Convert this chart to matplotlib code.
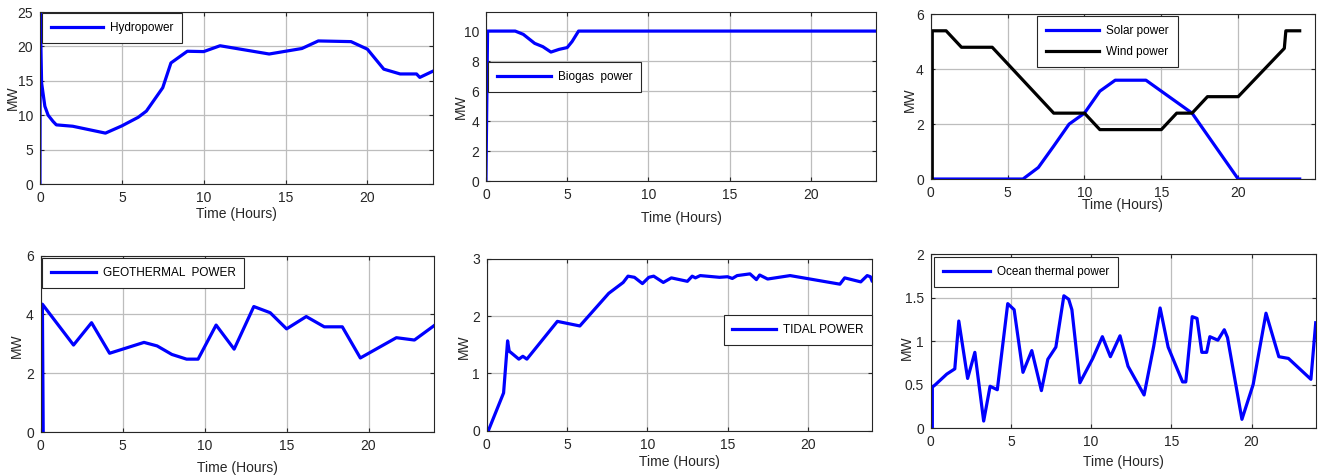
import matplotlib
matplotlib.use("Agg")
import matplotlib.pyplot as plt

plt.rcParams['font.family'] = ['Liberation Sans', 'DejaVu Sans']

# data (hours, MW)
hydro_t = [0, 0.02, 0.1, 0.3, 0.5, 0.8, 1, 2, 4, 5, 6, 6.5, 7.5, 8, 9, 10, 11, 14, 16, 17, 19, 20,
           21, 22, 23, 23.2, 24]
hydro_mw = [0, 25, 14.7, 11.3, 10.0, 9.1, 8.6, 8.4, 7.4, 8.45, 9.7, 10.6, 14.0, 17.6, 19.3, 19.25,
            20.1, 18.9, 19.7, 20.8, 20.7, 19.6, 16.7, 16.0, 16.0, 15.5, 16.4]

biogas_t = [0, 0.1, 1.8, 2.3, 3, 3.5, 4, 4.5, 5, 5.3, 5.7, 24]
biogas_mw = [0, 10, 10, 9.78, 9.18, 8.96, 8.6, 8.78, 8.9, 9.3, 10, 10]

solar_t = [0, 6, 7, 8, 9, 10, 11, 12, 14, 15, 17, 20, 24]
solar_mw = [0, 0, 0.42, 1.2, 2.0, 2.4, 3.2, 3.6, 3.6, 3.2, 2.4, 0, 0]

wind_t = [0.1, 0.1, 1, 2, 4, 8, 10, 11, 15, 16, 17, 18, 20, 23, 23.1, 24]
wind_mw = [0, 5.4, 5.4, 4.8, 4.8, 2.4, 2.4, 1.8, 1.8, 2.4, 2.4, 3.0, 3.0, 4.76, 5.4, 5.4]

geo_t = [0.15, 0.1, 2, 3.1, 4.2, 6.3, 7.1, 8, 8.9, 9.6, 10.7, 11.8, 13, 14, 15, 16.2, 17.3, 18.4,
         19.5, 21.7, 22.8, 24]
geo_mw = [0, 4.35, 2.96, 3.72, 2.68, 3.05, 2.93, 2.64, 2.48, 2.48, 3.64, 2.82, 4.27, 4.06, 3.51,
          3.93, 3.58, 3.58, 2.52, 3.21, 3.13, 3.62]

tidal_t = [0.1, 1.05, 1.3, 1.4, 2, 2.25, 2.5, 4.4, 5.8, 7.6, 8.5, 8.8, 9.2, 9.7, 10.1, 10.4, 11,
           11.5, 12.5, 12.8, 13, 13.3, 14.5, 15, 15.3, 15.6, 16.4, 16.8, 17, 17.5, 18.9, 22, 22.3,
           23.3, 23.7, 23.9, 24]
tidal_mw = [0, 0.66, 1.57, 1.39, 1.25, 1.30, 1.25, 1.91, 1.83, 2.40, 2.59, 2.70, 2.68, 2.57, 2.68,
            2.70, 2.59, 2.67, 2.61, 2.70, 2.67, 2.71, 2.68, 2.69, 2.66, 2.71, 2.74, 2.64, 2.72,
            2.65, 2.71, 2.56, 2.67, 2.60, 2.71, 2.69, 2.62]

ocean_t = [0.1, 0.1, 0.3, 1, 1.5, 1.75, 2.3, 2.75, 3.3, 3.7, 4.15, 4.8, 5.2, 5.75, 6.3, 6.9, 7.3,
           7.8, 8.3, 8.6, 8.8, 9.3, 10.1, 10.7, 11.2, 11.8, 12.3, 13.3, 13.9, 14.3, 14.8, 15.7,
           15.9, 16.3, 16.6, 16.9, 17.2, 17.4, 17.9, 18.3, 18.5, 19.4, 20.1, 20.9, 21.7, 22.3,
           23.7, 24]
ocean_mw = [0, 0.47, 0.5, 0.62, 0.68, 1.23, 0.57, 0.87, 0.08, 0.48, 0.44, 1.43, 1.36, 0.64, 0.89,
            0.43, 0.79, 0.93, 1.52, 1.48, 1.36, 0.52, 0.80, 1.05, 0.82, 1.06, 0.71, 0.38, 0.94,
            1.38, 0.93, 0.53, 0.53, 1.28, 1.26, 0.87, 0.87, 1.05, 1.01, 1.13, 1.04, 0.10, 0.50,
            1.32, 0.82, 0.80, 0.56, 1.21]

BLUE = '#0000ff'
LW = 2.3

fig = plt.figure(figsize=(13.23, 4.76), dpi=100)


def style_axes(ax, xlim, ylim, yticks, yticklabels=None, xlab_y=-0.17, ylab_x=-0.065, ylab_y=0.5):
    ax.set_xlim(*xlim)
    ax.set_ylim(*ylim)
    ax.set_xticks([0, 5, 10, 15, 20])
    ax.set_yticks(yticks)
    if yticklabels:
        ax.set_yticklabels(yticklabels)
    ax.grid(True, color='#bdbdbd', linewidth=0.9)
    ax.set_axisbelow(True)
    ax.tick_params(direction='in', length=3, top=True, right=True, labelsize=10,
                   colors='#262626', pad=5)
    for s in ax.spines.values():
        s.set_color('#262626')
        s.set_linewidth(0.8)
    ax.set_xlabel('Time (Hours)', fontsize=10, color='#262626', va='center')
    ax.set_ylabel('MW', fontsize=10, color='#262626', va='center')
    ax.xaxis.set_label_coords(0.5, xlab_y)
    ax.yaxis.set_label_coords(ylab_x, ylab_y)


def add_legend(ax, loc, anchor, hl):
    leg = ax.legend(loc=loc, bbox_to_anchor=anchor, fontsize=8.5, fancybox=False,
                    edgecolor='#262626', framealpha=1, borderaxespad=0, handlelength=hl,
                    borderpad=0.75, handletextpad=0.6, labelspacing=0.75)
    leg.get_frame().set_linewidth(0.8)
    return leg


# Hydropower
ax1 = fig.add_axes([0.0302, 0.6134, 0.297, 0.3613])
ax1.plot(hydro_t, hydro_mw, color=BLUE, lw=LW, label='Hydropower')
style_axes(ax1, (0, 24), (0, 25), range(0, 26, 5), xlab_y=-0.175, ylab_x=-0.069)
add_legend(ax1, 'upper left', (0.005, 0.994), 4.4)

# Biogas
ax2 = fig.add_axes([0.3673, 0.6197, 0.2948, 0.3544])
ax2.plot(biogas_t, biogas_mw, color=BLUE, lw=LW, label='Biogas  power')
style_axes(ax2, (0, 24), (0, 11.25), range(0, 11, 2), xlab_y=-0.22, ylab_x=-0.065, ylab_y=0.44)
add_legend(ax2, 'upper left', (0.005, 0.705), 4.6)

# Solar & wind
ax3 = fig.add_axes([0.7035, 0.6239, 0.2905, 0.346])
ax3.plot(solar_t, solar_mw, color=BLUE, lw=LW, label='Solar power')
ax3.plot(wind_t, wind_mw, color='black', lw=LW, label='Wind power')
style_axes(ax3, (0, 25), (0, 6), range(0, 7, 2), xlab_y=-0.16, ylab_x=-0.054, ylab_y=0.48)
add_legend(ax3, 'upper left', (0.277, 0.99), 4.5)

# Geothermal
ax4 = fig.add_axes([0.0308, 0.0924, 0.2973, 0.3704])
ax4.plot(geo_t, geo_mw, color=BLUE, lw=LW, label='GEOTHERMAL  POWER')
style_axes(ax4, (0, 24), (0, 6), range(0, 7, 2), xlab_y=-0.205, ylab_x=-0.061, ylab_y=0.49)
add_legend(ax4, 'upper left', (0.003, 0.987), 3.8)

# Tidal
ax5 = fig.add_axes([0.3679, 0.0952, 0.2912, 0.3607])
ax5.plot(tidal_t, tidal_mw, color=BLUE, lw=LW, label='TIDAL POWER')
style_axes(ax5, (0, 24), (0, 3), range(0, 4), xlab_y=-0.18, ylab_x=-0.059, ylab_y=0.49)
add_legend(ax5, 'upper right', (1.0, 0.674), 3.65)

# Ocean thermal
ax6 = fig.add_axes([0.7035, 0.1008, 0.291, 0.3655])
ax6.plot(ocean_t, ocean_mw, color=BLUE, lw=LW, label='Ocean thermal power')
style_axes(ax6, (0, 24), (0, 2), [0, 0.5, 1, 1.5, 2], ['0', '0.5', '1', '1.5', '2'],
           xlab_y=-0.195, ylab_x=-0.062, ylab_y=0.46)
add_legend(ax6, 'upper left', (0.0086, 0.983), 4.0)

fig.savefig('out.png', dpi=100)
